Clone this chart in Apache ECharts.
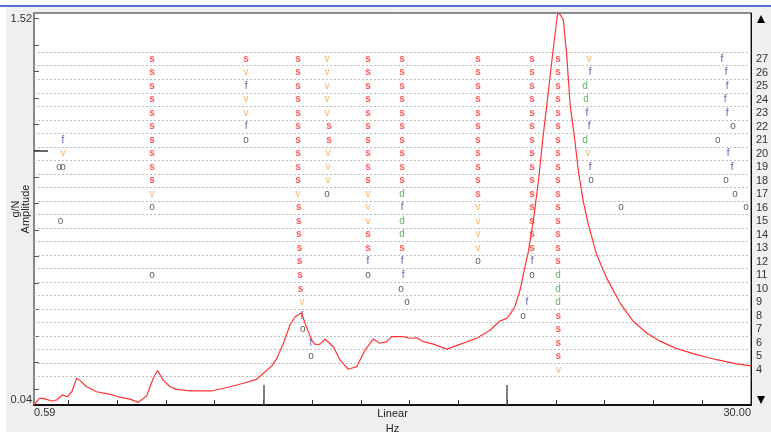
<!DOCTYPE html>
<html>
<head>
<meta charset="utf-8">
<script src="https://cdn.jsdelivr.net/npm/echarts@6/dist/echarts.min.js"></script>
<style>
  html, body { margin: 0; padding: 0; background: #fff; }
  #chart { width: 771px; height: 434px; }
</style>
</head>
<body>
<div id="chart"></div>
<script>
// frequency response curve: [Hz, amplitude g/N]
const fftCurve = [
  [0.59, 0.040], [0.81, 0.065], [0.97, 0.065], [1.32, 0.055], [1.52, 0.059],
  [1.75, 0.078], [1.96, 0.071], [2.14, 0.090], [2.34, 0.141], [2.48, 0.132],
  [2.75, 0.109], [3.16, 0.090], [3.71, 0.080], [4.05, 0.071], [4.53, 0.062],
  [4.87, 0.050], [5.21, 0.074], [5.48, 0.141], [5.66, 0.170], [5.89, 0.134],
  [6.17, 0.109], [6.44, 0.099], [6.99, 0.093], [7.88, 0.093], [8.63, 0.109],
  [9.18, 0.122], [9.72, 0.137], [10.00, 0.160], [10.34, 0.187], [10.55, 0.216],
  [10.82, 0.273], [11.09, 0.342], [11.30, 0.373], [11.57, 0.388], [11.71, 0.348],
  [11.98, 0.285], [12.12, 0.269], [12.32, 0.270], [12.53, 0.288], [12.87, 0.260],
  [13.14, 0.210], [13.48, 0.175], [13.83, 0.185], [14.17, 0.248], [14.51, 0.289],
  [14.78, 0.273], [15.06, 0.279], [15.26, 0.298], [15.74, 0.298], [16.01, 0.292],
  [16.29, 0.294], [16.56, 0.279], [16.97, 0.270], [17.52, 0.251], [18.06, 0.269],
  [18.75, 0.292], [19.29, 0.322], [19.70, 0.357], [19.98, 0.367], [20.11, 0.381],
  [20.32, 0.413], [20.53, 0.475], [20.66, 0.532], [20.87, 0.620], [21.07, 0.734],
  [21.28, 0.885], [21.48, 1.061], [21.69, 1.224], [21.83, 1.338], [21.96, 1.438],
  [22.07, 1.520], [22.17, 1.514], [22.30, 1.495], [22.44, 1.363], [22.58, 1.174],
  [22.78, 1.036], [22.92, 0.922], [23.12, 0.809], [23.33, 0.721], [23.67, 0.607],
  [24.08, 0.519], [24.63, 0.425], [25.17, 0.356], [25.72, 0.312], [26.27, 0.281],
  [26.95, 0.253], [27.77, 0.230], [28.59, 0.211], [29.41, 0.195], [30.00, 0.188]
];

// stabilisation marks: [Hz, model order]
const sPoints = [
  [5.43, 27], [5.43, 26], [5.43, 25], [5.43, 24], [5.43, 23], [5.43, 22], [5.43, 21], [5.43, 20], [5.43, 19], [5.43, 18],
  [9.29, 27],
  [11.42, 27], [11.42, 26], [11.42, 25], [11.42, 24], [11.42, 23], [11.42, 22], [11.42, 21], [11.42, 20], [11.42, 19], [11.42, 18],
  [11.45, 16], [11.45, 15], [11.45, 14], [11.48, 13], [11.48, 12], [11.50, 11], [11.52, 10],
  [12.69, 22], [12.69, 21],
  [14.29, 27], [14.29, 26], [14.29, 25], [14.29, 24], [14.29, 23], [14.29, 22], [14.29, 21], [14.29, 20], [14.29, 19], [14.29, 18], [14.29, 14], [14.29, 13],
  [15.69, 27], [15.69, 26], [15.69, 25], [15.69, 24], [15.69, 23], [15.69, 22], [15.69, 21], [15.69, 20], [15.69, 19], [15.69, 18], [15.69, 13],
  [18.80, 27], [18.80, 26], [18.80, 25], [18.80, 24], [18.80, 23], [18.80, 22], [18.80, 21], [18.80, 20], [18.80, 19], [18.80, 18], [18.80, 17],
  [21.02, 27], [21.02, 26], [21.02, 25], [21.02, 24], [21.02, 23], [21.02, 22], [21.02, 21], [21.02, 20], [21.02, 19], [21.02, 18], [21.02, 17], [21.02, 16], [21.02, 15], [21.02, 14], [21.02, 13],
  [22.08, 27], [22.08, 26], [22.08, 25], [22.08, 24], [22.08, 23], [22.08, 22], [22.08, 21], [22.08, 20], [22.08, 19], [22.08, 18], [22.08, 17], [22.08, 16], [22.08, 15], [22.08, 14], [22.08, 13], [22.08, 12],
  [22.10, 8], [22.10, 7], [22.10, 6], [22.10, 5]
];
const vPoints = [
  [1.78, 20], [5.43, 17], [9.29, 26], [9.29, 24], [9.29, 23], [11.42, 17], [11.58, 9],
  [12.61, 27], [12.61, 26], [12.61, 25], [12.61, 24], [12.61, 23], [12.65, 20], [12.65, 19], [12.65, 18],
  [14.29, 17], [14.29, 16], [14.29, 15],
  [18.80, 16], [18.80, 15], [18.80, 14], [18.80, 13],
  [22.10, 4], [23.35, 27], [23.31, 20]
];
const fPoints = [
  [1.78, 21], [9.29, 25], [9.29, 22], [11.58, 8], [11.95, 6], [14.29, 12],
  [15.69, 16], [15.69, 12], [15.73, 11], [21.02, 12], [20.81, 9],
  [23.40, 26], [23.27, 23], [23.36, 22], [23.40, 19],
  [28.81, 27], [28.98, 26], [29.02, 25], [28.94, 24], [29.02, 23], [29.06, 20], [29.23, 19]
];
const dPoints = [
  [15.69, 17], [15.69, 15], [15.69, 14],
  [22.08, 11], [22.08, 10], [22.08, 9],
  [23.19, 25], [23.23, 24], [23.19, 21]
];
const oPoints = [
  [1.62, 19], [1.78, 19], [1.68, 15], [5.43, 16], [5.43, 11], [9.29, 21],
  [11.62, 7], [11.95, 5], [12.61, 17], [14.29, 11], [15.64, 10], [15.89, 9],
  [18.80, 12], [21.02, 11], [20.65, 8], [23.44, 18], [24.67, 16],
  [29.26, 22], [28.64, 21], [28.98, 18], [29.35, 17], [29.80, 16]
];

const orderLabels = [4, 5, 6, 7, 8, 9, 10, 11, 12, 13, 14, 15, 16, 17, 18, 19, 20, 21, 22, 23, 24, 25, 26, 27];
const orderGrid = [3.5, 4.5, 5.5, 6.5, 7.5, 8.5, 9.5, 10.5, 11.5, 12.5, 13.5, 14.5, 15.5, 16.5, 17.5, 18.5, 19.5, 20.5, 21.5, 22.5, 23.5, 24.5, 25.5, 26.5, 27.5];
const ampTicks = [0.1, 0.2, 0.3, 0.4, 0.5, 0.6, 0.7, 0.8, 0.9, 1.0, 1.1, 1.2, 1.3, 1.4, 1.5];
const hzTicks = [2, 4, 6, 8, 10, 12, 14, 16, 18, 20, 22, 24, 26, 28];
const hzMajorTicks = [10, 20];

const font = 'Liberation Sans, Arial, sans-serif';

function markSeries(name, data, letter, color) {
  return {
    name, type: 'scatter', xAxisIndex: 0, yAxisIndex: 1, data,
    symbolSize: 1, itemStyle: { color: 'transparent' },
    label: {
      show: true, position: 'inside', formatter: letter,
      color, fontFamily: font, fontSize: 10, fontWeight: letter === 's' ? 'bold' : 'normal'
    },
    silent: true, z: 4
  };
}

const chart = echarts.init(document.getElementById('chart'), null, { renderer: 'canvas' });

chart.setOption({
  animation: false,
  backgroundColor: '#fff',
  textStyle: { fontFamily: font },
  graphic: [
    { type: 'rect', shape: { x: 6, y: 7, width: 765, height: 425 }, style: { fill: '#f0f0f0' }, z: -10 },
    { type: 'line', shape: { x1: 0, y1: 6, x2: 771, y2: 6 }, style: { stroke: '#1f40c0', lineWidth: 1.5 } },
    { type: 'polygon', shape: { points: [[757, 23], [765, 23], [761, 15]] }, style: { fill: '#000' } },
    { type: 'polygon', shape: { points: [[757, 396], [765, 396], [761, 404]] }, style: { fill: '#000' } }
  ],
  grid: {
    left: 34, right: 20, top: 13, bottom: 29,
    outerBoundsMode: 'none', containLabel: false,
    show: true, backgroundColor: '#fff', borderColor: '#222', borderWidth: 1
  },
  xAxis: [
    {
      type: 'value', min: 0.59, max: 30, position: 'bottom',
      axisLine: { show: true, lineStyle: { color: '#111', width: 2 } },
      axisTick: { show: true, inside: true, length: 5, customValues: hzTicks, lineStyle: { color: '#333' } },
      axisLabel: {
        customValues: [0.59, 30], formatter: (v) => v.toFixed(2),
        alignMinLabel: 'left', alignMaxLabel: 'right',
        margin: 2, fontSize: 11, color: '#333'
      },
      splitLine: { show: false },
      name: 'Linear\nHz', nameLocation: 'middle', nameGap: 1, nameMoveOverlap: false,
      nameTextStyle: { fontSize: 11, color: '#222', lineHeight: 15 }
    },
    {
      type: 'value', min: 0.59, max: 30, position: 'bottom',
      axisLine: { show: false },
      axisTick: { show: true, inside: true, length: 20, customValues: hzMajorTicks, lineStyle: { color: '#555', width: 1.5 } },
      axisLabel: { show: false },
      splitLine: { show: false }
    }
  ],
  yAxis: [
    {
      type: 'value', min: 0.04, max: 1.52, position: 'left',
      axisLine: { show: true, lineStyle: { color: '#888', width: 2 } },
      axisTick: { show: true, inside: true, length: 5, customValues: ampTicks, lineStyle: { color: '#555' } },
      axisLabel: {
        customValues: [0.04, 1.52], formatter: (v) => v.toFixed(2),
        verticalAlignMinLabel: 'bottom', verticalAlignMaxLabel: 'top',
        margin: 2, fontSize: 11, color: '#333'
      },
      splitLine: { show: false },
      name: 'g/N\nAmplitude', nameLocation: 'middle', nameRotate: 90, nameGap: 3, nameMoveOverlap: false,
      nameTextStyle: { fontSize: 11, color: '#222', lineHeight: 10 }
    },
    {
      type: 'value', min: 1.4, max: 30.4, position: 'right',
      axisLine: { show: true, lineStyle: { color: '#111', width: 1 } },
      axisTick: { show: false },
      axisLabel: { customValues: orderLabels, margin: 5, fontSize: 11, color: '#333' },
      splitLine: { show: false }
    },
    {
      type: 'value', min: 0.04, max: 1.52, position: 'left',
      axisLine: { show: false },
      axisTick: { show: true, inside: true, length: 14, customValues: [1.0], lineStyle: { color: '#333', width: 1.5 } },
      axisLabel: { show: false },
      splitLine: { show: false }
    }
  ],
  series: [
    {
      name: 'grid', type: 'scatter', xAxisIndex: 0, yAxisIndex: 1, data: [],
      markLine: {
        silent: true, symbol: 'none', label: { show: false },
        lineStyle: { color: '#bdbdbd', width: 1, type: [2, 2] },
        data: orderGrid.map((v) => ({ yAxis: v }))
      },
      z: 1
    },
    markSeries('s', sPoints, 's', '#ff2b2b'),
    markSeries('v', vPoints, 'v', '#ffa040'),
    markSeries('f', fPoints, 'f', '#3434a8'),
    markSeries('d', dPoints, 'd', '#3c9c3c'),
    markSeries('o', oPoints, 'o', '#333'),
    {
      name: 'FRF', type: 'line', xAxisIndex: 0, yAxisIndex: 0, data: fftCurve,
      showSymbol: false, smooth: false,
      lineStyle: { color: '#ff3535', width: 1.2 },
      silent: true, z: 5
    }
  ]
});
</script>
</body>
</html>
